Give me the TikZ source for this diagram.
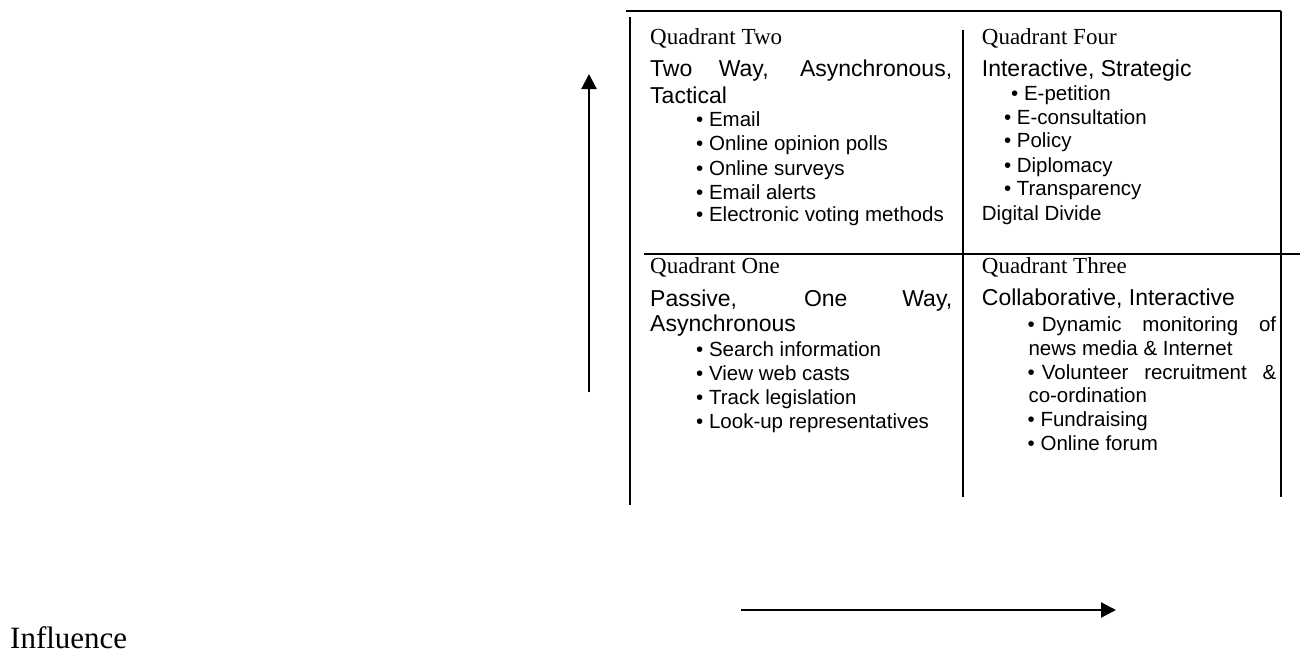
\documentclass[tikz,border=0pt]{standalone}
\usepackage{fontspec}
\setmainfont{Liberation Serif}
\setsansfont{Liberation Sans}
\usetikzlibrary{arrows.meta}
\begin{document}
\begin{tikzpicture}[x=1pt,y=-1pt,
  frame/.style={line width=1.8pt},
  axis/.style={line width=2.2pt,-{Triangle[length=15pt,width=15pt]}},
  lbl/.style={anchor=base west,inner sep=0pt,font=\fontsize{23}{27}\selectfont},
  head/.style={anchor=base west,inner sep=0pt,font=\sffamily\fontsize{23}{27}\selectfont},
  item/.style={anchor=base west,inner sep=0pt,font=\sffamily\fontsize{20.5}{24}\selectfont},
  big/.style={anchor=base west,inner sep=0pt,font=\fontsize{31}{35}\selectfont}]
\useasboundingbox (0,0) rectangle (1300,653);

% frame coordinates
\coordinate (topL) at (626,11);
\coordinate (topR) at (1281,11);
\coordinate (leftT) at (629.7,17);
\coordinate (leftB) at (629.7,505);
\coordinate (midT) at (963,30);
\coordinate (midB) at (963,497);
\coordinate (rightB) at (1281,497);
\coordinate (hL) at (644,254);
\coordinate (hR) at (1300,254);
\coordinate (upB) at (589,392);
\coordinate (upT) at (589,74);
\coordinate (rtL) at (741,610);
\coordinate (rtR) at (1116,610);

\draw[frame] (topL) -- (topR);
\draw[frame] (leftT) -- (leftB);
\draw[frame] (midT) -- (midB);
\draw[frame] (topR) -- (rightB);
\draw[frame] (hL) -- (hR);
\draw[axis] (upB) -- (upT);
\draw[axis] (rtL) -- (rtR);

% Quadrant Two
\node[lbl] (q2) at (650,44) {Quadrant Two};
\node[head] (q2h1) at (650,76) {\makebox[302pt][s]{Two Way, Asynchronous,}};
\node[head] (q2h2) at (650,103) {Tactical};
\node[item] (q2a) at (696,126.7) {• Email};
\node[item] (q2b) at (696,150.7) {• Online opinion polls};
\node[item] (q2c) at (696,175) {• Online surveys};
\node[item] (q2d) at (696,199) {• Email alerts};
\node[item] (q2e) at (696,221.7) {• Electronic voting methods};

% Quadrant Four
\node[lbl] (q4) at (981.7,44) {Quadrant Four};
\node[head] (q4h) at (981.7,76) {Interactive, Strategic};
\node[item] (q4a) at (1011,100) {• E-petition};
\node[item] (q4b) at (1003.8,124) {• E-consultation};
\node[item] (q4c) at (1003.8,147.7) {• Policy};
\node[item] (q4d) at (1003.8,172.3) {• Diplomacy};
\node[item] (q4e) at (1003.8,195.7) {• Transparency};
\node[item] (q4f) at (981.7,220) {Digital Divide};

% Quadrant One
\node[lbl] (q1) at (650,273.3) {Quadrant One};
\node[head] (q1h1) at (650,306) {\makebox[302pt][s]{Passive, One Way,}};
\node[head] (q1h2) at (650,331.7) {Asynchronous};
\node[item] (q1a) at (696,356) {• Search information};
\node[item] (q1b) at (696,380) {• View web casts};
\node[item] (q1c) at (696,404) {• Track legislation};
\node[item] (q1d) at (696,428.3) {• Look-up representatives};

% Quadrant Three
\node[lbl] (q3) at (981.7,273.3) {Quadrant Three};
\node[head] (q3h) at (981.7,305) {Collaborative, Interactive};
\node[item] (q3a) at (1027.5,331.7) {\makebox[14.2pt][l]{•}\makebox[234.3pt][s]{Dynamic monitoring of}};
\node[item] (q3b) at (1028.3,355) {news media \& Internet};
\node[item] (q3c) at (1027.5,379.3) {\makebox[14.2pt][l]{•}\makebox[234.3pt][s]{Volunteer recruitment \&}};
\node[item] (q3d) at (1028.3,402.7) {co-ordination};
\node[item] (q3e) at (1027.5,426.7) {• Fundraising};
\node[item] (q3f) at (1027.5,450) {• Online forum};

% axis label
\node[big] (infl) at (10,648) {Influence};
\end{tikzpicture}
\end{document}
